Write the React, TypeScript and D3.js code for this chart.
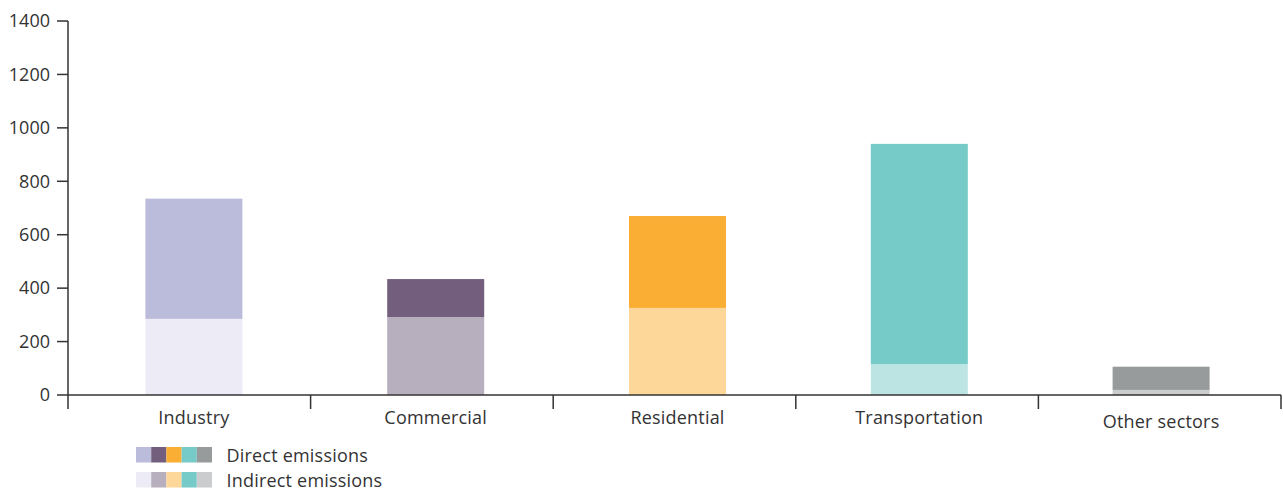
import React from "react";
import * as d3 from "d3";

const categories = ["Industry", "Commercial", "Residential", "Transportation", "Other sectors"];
const indirectValues = [285, 292, 326, 116, 19];
const directValues = [450, 142, 344, 824, 87];
const directColors = ["#bbbbdb", "#735f7d", "#fbae34", "#76cac7", "#979b9b"];
const indirectColors = ["#ecebf6", "#b7afbe", "#fdd699", "#bce4e3", "#cbcccd"];
const legendIndirectColors = ["#ecebf6", "#b7afbe", "#fdd699", "#76cac7", "#cbcccd"];
const yTicks = [0, 200, 400, 600, 800, 1000, 1200, 1400];
const legendLabels = ["Direct emissions", "Indirect emissions"];

const W = 1283;
const H = 491;
const x0 = 68;
const x1 = 1281;
const yTop = 21;
const yBottom = 395;
const font = "'Open Sans', 'Noto Sans', sans-serif";
const textColor = "#333333";
const axisColor = "#333333";

export default function App() {
  const x = d3.scaleBand<string>().domain(categories).range([x0, x1]).padding(0);
  const xBar = d3.scaleBand<string>().domain(categories).range([73, 1282]).padding(0);
  const y = d3.scaleLinear().domain([0, 1400]).range([yBottom, yTop]);
  const barW = 97;

  const stackData = categories.map((c, i) => ({
    cat: c,
    indirect: indirectValues[i],
    direct: directValues[i],
  }));
  const stack = d3.stack<any>().keys(["indirect", "direct"]);
  const series = stack(stackData);

  const boundaries = [...categories.map((c) => x(c) as number), x1];
  const center = (c: string) => (xBar(c) as number) + xBar.bandwidth() / 2;

  return (
    <svg
      width={W}
      height={H}
      style={{ position: "absolute", left: 0, top: 0, background: "#fff" }}
      fontFamily={font}
    >
      {/* bars */}
      {series.map((s) =>
        s.map((d, i) => {
          const cx = center(categories[i]);
          const colors = s.key === "direct" ? directColors : indirectColors;
          return (
            <rect
              key={s.key + i}
              x={cx - barW / 2}
              y={y(d[1])}
              width={barW}
              height={y(d[0]) - y(d[1])}
              fill={colors[i]}
            />
          );
        })
      )}

      {/* y axis */}
      <line x1={x0} x2={x0} y1={yTop} y2={yBottom} stroke={axisColor} strokeWidth={1.5} />
      {yTicks.map((t) => (
        <g key={t} transform={`translate(0,${y(t)})`}>
          <line x1={x0 - 11} x2={x0} stroke={axisColor} strokeWidth={1.5} />
          <text x={50} dy="0.35em" textAnchor="end" fontSize={18} fill={textColor}>
            {t}
          </text>
        </g>
      ))}

      {/* x axis */}
      <line x1={x0} x2={x1} y1={yBottom} y2={yBottom} stroke={axisColor} strokeWidth={1.5} />
      {boundaries.map((b, i) => (
        <line key={i} x1={b} x2={b} y1={yBottom} y2={yBottom + 14} stroke={axisColor} strokeWidth={1.5} />
      ))}
      {categories.map((c, i) => (
        <text
          key={c}
          x={center(c)}
          y={i === categories.length - 1 ? 428 : 424}
          textAnchor="middle"
          fontSize={18}
          letterSpacing={0.2}
          fill={textColor}
        >
          {c}
        </text>
      ))}

      {/* legend */}
      {[directColors, legendIndirectColors].map((cols, r) => (
        <g key={r} transform={`translate(136,${447 + r * 25})`}>
          {cols.map((col, i) => (
            <rect key={i} x={i * 15.2} y={0} width={15.2} height={15.5} fill={col} />
          ))}
          <text x={90.5} y={15} fontSize={18} letterSpacing={0.2} fill={textColor}>
            {legendLabels[r]}
          </text>
        </g>
      ))}
    </svg>
  );
}
